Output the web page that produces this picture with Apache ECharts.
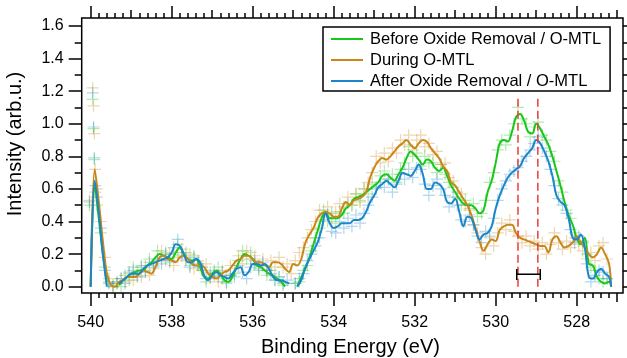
<!DOCTYPE html>
<html>
<head>
<meta charset="utf-8">
<script src="https://cdn.jsdelivr.net/npm/echarts@6/dist/echarts.min.js"></script>
<style>
html,body{margin:0;padding:0;background:#fff;}
#chart{width:627px;height:358px;}
</style>
</head>
<body>
<div id="chart"></div>
<script>
// ---------- DATA ----------
const seriesNames = ['Before Oxide Removal / O-MTL', 'During O-MTL', 'After Oxide Removal / O-MTL'];

// smoothed curves: binding energy (eV)
const lineEnergy = [
 540.0,539.9,539.8,539.7,539.6,539.5,539.4,539.3,539.2,539.1,
 539.0,538.9,538.8,538.7,538.6,538.5,538.4,538.3,538.2,538.1,
 538.0,537.9,537.8,537.7,537.6,537.5,537.4,537.3,537.2,537.1,
 537.0,536.9,536.8,536.7,536.6,536.5,536.4,536.3,536.2,536.1,
 536.0,535.9,535.8,535.7,535.6,535.5,535.4,535.3,535.2,535.1,
 535.0,534.9,534.8,534.7,534.6,534.5,534.4,534.3,534.2,534.1,
 534.0,533.9,533.8,533.7,533.6,533.5,533.4,533.3,533.2,533.1,
 533.0,532.9,532.8,532.7,532.6,532.5,532.4,532.3,532.2,532.1,
 532.0,531.9,531.8,531.7,531.6,531.5,531.4,531.3,531.2,531.1,
 531.0,530.9,530.8,530.7,530.6,530.5,530.4,530.3,530.2,530.1,
 530.0,529.9,529.8,529.7,529.6,529.5,529.4,529.3,529.2,529.1,
 529.0,528.9,528.8,528.7,528.6,528.5,528.4,528.3,528.2,528.1,
 528.0,527.9,527.8,527.7,527.6,527.5,527.4,527.3,527.2,527.15
];
const lineBefore = [
 0,0.62,0.42,0.2,0.03,null,null,0.01,0.04,0.06,
 0.08,0.09,0.1,0.1,0.13,0.15,0.18,0.2,0.19,0.18,
 0.17,0.21,0.24,0.2,0.17,0.16,0.17,0.12,0.06,0.05,
 0.08,0.1,0.08,0.04,0.03,0.06,0.12,0.17,0.2,0.19,
 0.17,0.13,0.12,0.1,0.08,0.07,0.05,0.03,0.0,null,
 null,0.0,0.06,0.11,0.18,0.26,0.34,0.42,0.46,0.42,
 0.42,0.42,0.44,0.48,0.5,0.54,0.55,0.56,0.58,0.6,
 0.62,0.64,0.68,0.69,0.67,0.65,0.69,0.73,0.79,0.83,
 0.81,0.78,0.75,0.78,0.77,0.73,0.71,0.73,0.68,0.62,
 0.58,0.54,0.51,0.5,0.5,0.48,0.45,0.47,0.58,0.65,
 0.76,0.88,0.9,0.89,0.95,1.04,1.06,1.02,0.95,0.94,
 1.0,0.97,0.92,0.87,0.8,0.71,0.62,0.52,0.44,0.38,
 0.3,0.26,0.3,0.14,0.13,0.06,0.03,0.02,0.03,0
];
const lineDuring = [
 0,0.72,0.52,0.28,0.08,0.01,0.0,0.03,0.04,0.06,
 0.06,0.06,0.08,0.1,0.09,0.08,0.12,0.18,0.19,0.17,
 0.16,0.15,0.18,0.19,0.17,0.14,0.13,0.13,0.12,0.08,
 0.06,0.05,0.07,0.09,0.1,0.13,0.16,0.17,0.19,0.19,
 0.17,0.15,0.15,0.13,0.12,0.15,0.15,0.14,0.11,0.09,
 0.14,0.13,0.17,0.27,0.32,0.36,0.42,0.45,0.46,0.45,
 0.43,0.43,0.48,0.52,0.5,0.53,0.54,0.55,0.58,0.67,
 0.73,0.77,0.79,0.78,0.8,0.83,0.86,0.88,0.9,0.87,
 0.85,0.88,0.9,0.89,0.85,0.82,0.79,0.74,0.71,0.64,
 0.62,0.58,0.54,0.5,0.44,0.36,0.28,0.22,0.26,0.29,
 0.28,0.35,0.37,0.38,0.38,0.33,0.3,0.29,0.28,0.27,
 0.26,0.25,0.25,0.21,0.29,0.31,0.27,0.24,0.25,0.27,
 0.31,0.27,0.24,0.2,0.18,0.2,0.24,0.2,0.14,0
];
const lineAfter = [
 0,0.65,0.45,0.2,0.0,null,null,0.02,0.04,0.06,
 0.08,0.08,0.08,0.11,0.13,0.14,0.15,0.16,0.17,0.18,
 0.21,0.26,0.25,0.2,0.15,0.15,0.17,0.15,0.07,0.04,
 0.07,0.09,0.07,0.06,0.05,0.08,0.11,0.12,0.07,0.09,
 0.14,0.14,0.13,0.14,0.11,0.06,0.04,0.04,0.03,0.02,
 null,0.0,0.04,0.12,0.17,0.22,0.27,0.35,0.45,0.39,
 0.36,0.37,0.39,0.39,0.39,0.41,0.41,0.42,0.46,0.52,
 0.56,0.61,0.63,0.65,0.63,0.61,0.65,0.7,0.69,0.68,
 0.71,0.75,0.69,0.6,0.6,0.64,0.63,0.6,0.52,0.51,
 0.54,0.46,0.37,0.43,0.42,0.35,0.29,0.32,0.33,0.37,
 0.48,0.56,0.62,0.67,0.7,0.72,0.74,0.79,0.82,0.85,
 0.9,0.88,0.83,0.77,0.68,0.56,0.52,0.5,0.42,0.3,
 0.29,0.32,0.24,0.06,0.05,0.09,0.11,0.08,0.06,0
];

// raw measurement points ("+" markers)
const pointEnergy = [
 539.95,539.85,539.75,539.65,539.55,539.45,539.35,539.25,539.15,539.05,
 538.95,538.85,538.75,538.65,538.55,538.45,538.35,538.25,538.15,538.05,
 537.95,537.85,537.75,537.65,537.55,537.45,537.35,537.25,537.15,537.05,
 536.95,536.85,536.75,536.65,536.55,536.45,536.35,536.25,536.15,536.05,
 535.95,535.85,535.75,535.65,535.55,535.45,535.35,535.25,535.15,535.05,
 534.95,534.85,534.75,534.65,534.55,534.45,534.35,534.25,534.15,534.05,
 533.95,533.85,533.75,533.65,533.55,533.45,533.35,533.25,533.15,533.05,
 532.95,532.85,532.75,532.65,532.55,532.45,532.35,532.25,532.15,532.05,
 531.95,531.85,531.75,531.65,531.55,531.45,531.35,531.25,531.15,531.05,
 530.95,530.85,530.75,530.65,530.55,530.45,530.35,530.25,530.15,530.05,
 529.95,529.85,529.75,529.65,529.55,529.45,529.35,529.25,529.15,529.05,
 528.95,528.85,528.75,528.65,528.55,528.45,528.35,528.25,528.15,528.05,
 527.95,527.85,527.75,527.65,527.55,527.45,527.35,527.25
];
const pointsBefore = [
 1.15,0.5,0.33,0.12,0.03,0.01,0.02,0.0,0.07,0.04,
 0.12,0.07,0.13,0.1,0.17,0.13,0.22,0.17,0.21,0.15,
 0.2,0.26,0.19,0.21,0.13,0.19,0.13,0.1,0.03,0.09,
 0.07,0.12,0.05,0.02,0.07,0.08,0.16,0.22,0.17,0.21,
 0.14,0.1,0.13,0.07,0.1,0.04,0.06,0.01,null,null,
 0.02,0.03,0.1,0.13,0.22,0.3,0.36,0.47,0.4,0.45,
 0.39,0.46,0.45,0.51,0.5,0.57,0.53,0.6,0.57,0.63,
 0.61,0.68,0.71,0.66,0.69,0.64,0.72,0.76,0.86,0.8,
 0.82,0.74,0.8,0.76,0.76,0.7,0.75,0.69,0.64,0.61,
 0.55,0.5,0.53,0.48,0.51,0.43,0.45,0.53,0.64,0.7,
 0.84,0.9,0.87,0.93,1.0,1.1,1.03,1.0,0.92,0.98,
 1.01,0.93,0.9,0.83,0.77,0.65,0.58,0.47,0.42,0.33,
 0.28,0.27,0.2,0.12,0.1,0.05,0.03,0.05
];
const pointsDuring = [
 1.22,0.6,0.4,0.18,0.05,0.0,0.02,0.05,0.03,0.08,
 0.04,0.09,0.06,0.13,0.07,0.11,0.16,0.22,0.16,0.2,
 0.13,0.18,0.23,0.16,0.2,0.11,0.16,0.1,0.14,0.05,
 0.08,0.03,0.1,0.07,0.13,0.11,0.19,0.14,0.22,0.17,
 0.19,0.13,0.17,0.1,0.16,0.12,0.18,0.12,0.14,0.08,
 0.16,0.21,0.24,0.3,0.35,0.4,0.47,0.43,0.49,0.42,
 0.46,0.51,0.49,0.55,0.5,0.57,0.52,0.6,0.64,0.7,
 0.8,0.76,0.82,0.77,0.85,0.82,0.9,0.87,0.93,0.84,
 0.9,0.93,0.86,0.88,0.81,0.83,0.75,0.76,0.67,0.65,
 0.58,0.57,0.5,0.47,0.38,0.33,0.24,0.2,0.3,0.25,
 0.33,0.39,0.35,0.41,0.34,0.31,0.27,0.31,0.25,0.28,
 0.23,0.27,0.2,0.26,0.33,0.27,0.23,0.28,0.24,0.3,
 0.26,0.22,0.17,0.21,0.16,0.25,0.27,0.17
];
const pointsAfter = [
 1.19,0.55,0.36,0.1,0.02,0.0,0.03,0.05,0.02,0.09,
 0.1,0.06,0.12,0.09,0.15,0.12,0.17,0.14,0.2,0.16,
 0.24,0.29,0.21,0.17,0.12,0.18,0.14,0.12,0.05,0.06,
 0.1,0.06,0.09,0.03,0.07,0.06,0.13,0.09,0.05,0.12,
 0.16,0.11,0.15,0.1,0.08,0.04,0.06,0.02,0.04,null,
 0.02,0.05,0.08,0.16,0.2,0.25,0.3,0.41,0.44,0.34,
 0.33,0.4,0.36,0.42,0.37,0.44,0.39,0.45,0.5,0.55,
 0.6,0.64,0.61,0.66,0.58,0.63,0.69,0.66,0.72,0.67,
 0.73,0.72,0.63,0.56,0.62,0.66,0.6,0.56,0.49,0.55,
 0.5,0.41,0.4,0.44,0.38,0.31,0.27,0.34,0.31,0.42,
 0.53,0.6,0.65,0.69,0.71,0.73,0.77,0.8,0.84,0.88,
 0.92,0.85,0.8,0.72,0.62,0.54,0.5,0.45,0.35,0.27,
 0.31,0.28,0.14,0.03,0.07,0.1,0.09,0.05
];
// extra raw points at the high-energy edge
const edgeEnergy = [540.03, 539.93, 539.91, 539.89];
const edgeBefore = [0.5, 0.97, 0.78, 0.58];
const edgeDuring = [0.53, 1.11, 0.94, 0.72];
const edgeAfter  = [0.52, 0.98, 0.79, 0.62];

// annotation: dashed markers and separation bracket
const markerEnergies = [529.45, 528.96];
const markerRange = [0.0, 1.17];
const bracketEnergies = [529.48, 528.9];
const bracketLevel = 0.076;
const bracketCap = [0.041, 0.108];

// axis ticks
const xMajorRange = [528, 540];   // labelled every 2 eV
const xMinorRange = [527, 540];
const yTickRange = [0, 1.6];      // labelled every 0.2
const xView = [526.857, 540.222];
const yView = [-0.0387, 1.649];

// ---------- CHART ----------
const colors = ['#19c619', '#c98718', '#1b86c9'];
const FONT = 'Liberation Sans, Arial, sans-serif';
const pair = (xs, ys) => xs.map((x, i) => (ys[i] === null ? [x, '-'] : [x, ys[i]]));
const plus = 'path://M4.5,0h1v10h-1z M0,4.5h10v1h-10z';

const chart = echarts.init(document.getElementById('chart'), null, {renderer: 'canvas'});

const tickStyle = {lineStyle: {color: '#000', width: 1.5}};
const hidden = {show: false};

const option = {
  animation: false,
  backgroundColor: '#fff',
  grid: [
    {left: 81.7, right: 4, top: 18, bottom: 65, show: true, borderColor: '#000', borderWidth: 1.5, backgroundColor: 'transparent', z: 5},
    {left: 90.7, right: 50.3, top: 18, bottom: 65},
    {left: 90.7, right: 9.8, top: 18, bottom: 65},
    {left: 81.7, right: 4, top: 26, bottom: 71.3}
  ],
  xAxis: [
    {gridIndex: 0, type: 'value', inverse: true, min: xView[0], max: xView[1], axisLine: hidden, axisTick: hidden, axisLabel: hidden, splitLine: hidden},
    {gridIndex: 1, type: 'value', inverse: true, position: 'bottom', min: xMajorRange[0], max: xMajorRange[1], interval: 2,
      axisLine: hidden, splitLine: hidden, axisTick: {show: true, length: 13, ...tickStyle},
      axisLabel: {show: true, margin: 22, color: '#000', fontSize: 16, fontFamily: FONT}},
    {gridIndex: 1, type: 'value', inverse: true, position: 'top', min: xMajorRange[0], max: xMajorRange[1], interval: 2,
      axisLine: hidden, splitLine: hidden, axisTick: {show: true, length: 12, ...tickStyle}, axisLabel: hidden},
    {gridIndex: 2, type: 'value', inverse: true, position: 'bottom', min: xMinorRange[0], max: xMinorRange[1], interval: 1,
      axisLine: hidden, splitLine: hidden, axisTick: {show: true, length: 9, ...tickStyle},
      minorTick: {show: true, splitNumber: 5, length: 5, lineStyle: {color: '#000', width: 1.5}}, axisLabel: hidden},
    {gridIndex: 2, type: 'value', inverse: true, position: 'top', min: xMinorRange[0], max: xMinorRange[1], interval: 1,
      axisLine: hidden, splitLine: hidden, axisTick: {show: true, length: 8, ...tickStyle},
      minorTick: {show: true, splitNumber: 5, length: 5, lineStyle: {color: '#000', width: 1.5}}, axisLabel: hidden},
    {gridIndex: 3, type: 'value', show: false, min: 0, max: 1}
  ],
  yAxis: [
    {gridIndex: 0, type: 'value', min: yView[0], max: yView[1], axisLine: hidden, axisTick: hidden, axisLabel: hidden, splitLine: hidden},
    {gridIndex: 1, type: 'value', show: false, min: 0, max: 1},
    {gridIndex: 2, type: 'value', show: false, min: 0, max: 1},
    {gridIndex: 3, type: 'value', position: 'left', min: yTickRange[0], max: yTickRange[1], interval: 0.2,
      axisLine: hidden, splitLine: hidden, axisTick: {show: true, length: 13, ...tickStyle},
      minorTick: {show: true, splitNumber: 2, length: 7, lineStyle: {color: '#000', width: 1.5}},
      axisLabel: {show: true, margin: 18, color: '#000', fontSize: 16, fontFamily: FONT, formatter: v => v.toFixed(1)}},
    {gridIndex: 3, type: 'value', position: 'right', min: yTickRange[0], max: yTickRange[1], interval: 0.2,
      axisLine: hidden, splitLine: hidden, axisTick: {show: true, length: 6, ...tickStyle},
      minorTick: {show: true, splitNumber: 2, length: 5, lineStyle: {color: '#000', width: 1.5}}, axisLabel: hidden}
  ],
  legend: {
    data: seriesNames.map(n => ({name: n})),
    orient: 'vertical', left: 323, top: 27,
    padding: [2, 9, 0, 8], itemGap: 1, itemWidth: 32, itemHeight: 2, icon: 'rect',
    borderColor: '#000', borderWidth: 1.5, backgroundColor: '#fff', selectedMode: false,
    textStyle: {fontSize: 16.5, fontFamily: FONT, color: '#000', lineHeight: 20, padding: [0, 0, 0, 2]},
    z: 20
  },
  graphic: [
    {type: 'text', style: {text: 'Binding Energy (eV)', font: '20px ' + FONT, fill: '#000', x: 350.5, y: 347.5, textAlign: 'center', textVerticalAlign: 'middle'}},
    {type: 'text', x: 15.7, y: 144, rotation: Math.PI / 2, style: {text: 'Intensity (arb.u.)', font: '20px ' + FONT, fill: '#000', x: 0, y: 0, textAlign: 'center', textVerticalAlign: 'middle'}}
  ],
  series: []
};

const pointSets = [[pointsBefore, edgeBefore], [pointsDuring, edgeDuring], [pointsAfter, edgeAfter]];
pointSets.forEach((ps, k) => {
  option.series.push({
    name: 'points ' + k, type: 'scatter', xAxisIndex: 0, yAxisIndex: 0,
    data: pair(pointEnergy, ps[0]).concat(pair(edgeEnergy, ps[1])).filter(p => p[1] !== '-'),
    symbol: plus, symbolSize: 12,
    itemStyle: {color: colors[k], opacity: 0.34}, silent: true, z: 2
  });
});
const lineSets = [lineBefore, lineDuring, lineAfter];
lineSets.forEach((vals, k) => {
  option.series.push({
    name: seriesNames[k], type: 'line', xAxisIndex: 0, yAxisIndex: 0,
    data: pair(lineEnergy, vals), connectNulls: false,
    showSymbol: false, symbol: 'none', smooth: 0.35,
    lineStyle: {color: colors[k], width: 2}, itemStyle: {color: colors[k]}, z: 3 + k
  });
});
markerEnergies.forEach((e, k) => {
  option.series.push({
    name: 'marker ' + k, type: 'line', xAxisIndex: 0, yAxisIndex: 0,
    data: [[e, markerRange[0]], [e, markerRange[1]]], symbol: 'none',
    lineStyle: {color: '#ee3a3a', width: 1.5, type: [8, 4]}, z: 8, silent: true
  });
});
option.series.push({
  name: 'bracket', type: 'line', xAxisIndex: 0, yAxisIndex: 0, symbol: 'none',
  data: [[bracketEnergies[0], bracketCap[1]], [bracketEnergies[0], bracketCap[0]], [bracketEnergies[0], bracketLevel],
         [bracketEnergies[1], bracketLevel], [bracketEnergies[1], bracketCap[1]], [bracketEnergies[1], bracketCap[0]]],
  lineStyle: {color: '#000', width: 1.5}, z: 9, silent: true
});

chart.setOption(option);
</script>
</body>
</html>
